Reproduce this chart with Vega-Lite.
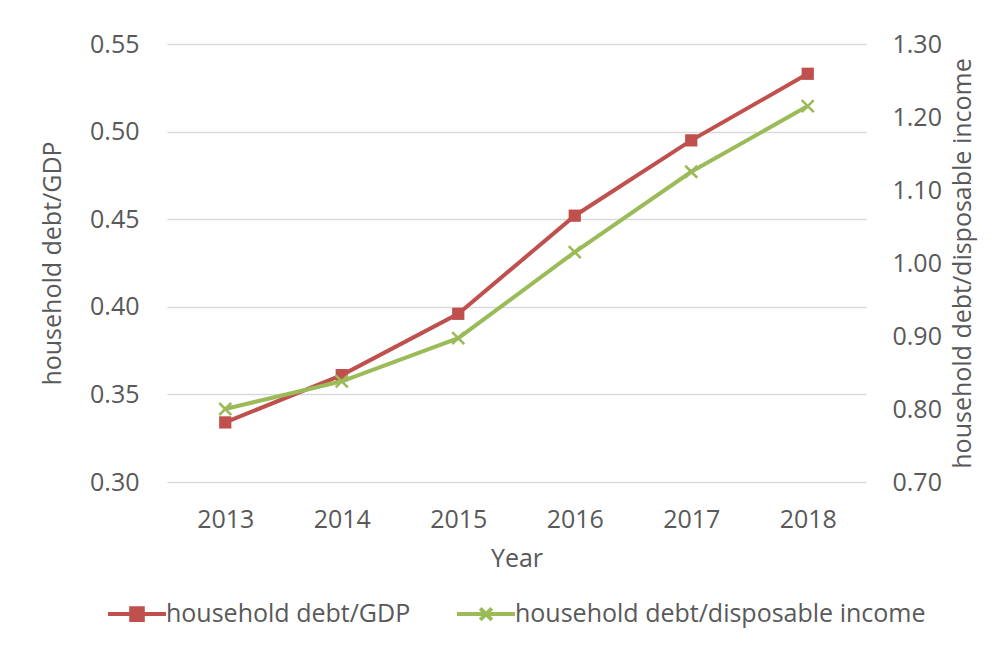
{
  "$schema": "https://vega.github.io/schema/vega-lite/v6.json",
  "width": 699,
  "height": 438,
  "autosize": {"type": "none"},
  "padding": {"left": 167, "top": 44, "right": 141, "bottom": 187},
  "background": "white",
  "config": {
    "view": {"stroke": null},
    "font": "Open Sans",
    "axis": {
      "labelFont": "Open Sans",
      "labelFontSize": 25,
      "labelColor": "#595959",
      "titleFont": "Open Sans",
      "titleFontSize": 25,
      "titleFontWeight": "normal",
      "titleColor": "#595959",
      "domain": false,
      "ticks": false,
      "tickSize": 0
    }
  },
  "data": {
    "values": [
      {"year": "2013", "gdp": 0.334, "income": 0.800},
      {"year": "2014", "gdp": 0.361, "income": 0.838},
      {"year": "2015", "gdp": 0.396, "income": 0.897},
      {"year": "2016", "gdp": 0.452, "income": 1.015},
      {"year": "2017", "gdp": 0.495, "income": 1.125},
      {"year": "2018", "gdp": 0.533, "income": 1.215}
    ]
  },
  "encoding": {
    "x": {
      "field": "year",
      "type": "ordinal",
      "scale": {"type": "point", "padding": 0.5},
      "axis": {
        "title": "Year",
        "labelAngle": 0,
        "labelPadding": 25,
        "titlePadding": 14,
        "grid": false
      }
    }
  },
  "layer": [
    {
      "encoding": {
        "y": {
          "field": "gdp",
          "type": "quantitative",
          "scale": {"domain": [0.3, 0.55], "nice": false, "zero": false},
          "axis": {
            "orient": "left",
            "title": "household debt/GDP",
            "values": [0.3, 0.35, 0.4, 0.45, 0.5, 0.55],
            "format": ".2f",
            "labelPadding": 28,
            "titlePadding": 24,
            "grid": true,
            "gridColor": "#D9D9D9",
            "gridWidth": 1.5
          }
        }
      },
      "layer": [
        {
          "mark": {"type": "line", "strokeWidth": 4},
          "encoding": {
            "color": {
              "datum": "household debt/GDP",
              "type": "nominal",
              "scale": {
                "domain": ["household debt/GDP", "household debt/disposable income"],
                "range": ["#C0504D", "#9BBB59"]
              },
              "legend": {
                "orient": "none",
                "legendX": -61,
                "legendY": 539,
                "direction": "horizontal",
                "title": null,
                "padding": 0,
                "symbolSize": 3364,
                "symbolStrokeWidth": 4,
                "labelFont": "Open Sans",
                "labelFontSize": 25,
                "labelColor": "#595959",
                "labelLimit": 600,
                "labelOffset": -2,
                "columnPadding": 38,
                "encode": {
                  "symbols": {
                    "update": {
                      "shape": {"signal": "datum.value === 'household debt/GDP' ? 'M-1,0L1,0M-0.2,-0.2L0.2,-0.2L0.2,0.2L-0.2,0.2Z' : 'M-1,0L1,0M-0.2,-0.2L0.2,0.2M-0.2,0.2L0.2,-0.2'"},
                      "fill": {"signal": "datum.value === 'household debt/GDP' ? '#C0504D' : 'transparent'"}
                    }
                  }
                }
              }
            }
          }
        },
        {
          "mark": {"type": "point", "shape": "square", "filled": true, "size": 150, "color": "#C0504D", "opacity": 1}
        }
      ]
    },
    {
      "encoding": {
        "y": {
          "field": "income",
          "type": "quantitative",
          "scale": {"domain": [0.7, 1.3], "nice": false, "zero": false},
          "axis": {
            "orient": "right",
            "title": "household debt/disposable income",
            "values": [0.7, 0.8, 0.9, 1.0, 1.1, 1.2, 1.3],
            "format": ".2f",
            "labelPadding": 26,
            "titlePadding": 9,
            "titleAngle": -90,
            "titleBaseline": "top",
            "grid": false
          }
        }
      },
      "layer": [
        {
          "mark": {"type": "line", "strokeWidth": 4},
          "encoding": {
            "color": {
              "datum": "household debt/disposable income",
              "type": "nominal"
            }
          }
        },
        {
          "mark": {"type": "point", "shape": "M-1,-1L1,1M-1,1L1,-1", "filled": false, "size": 144, "strokeWidth": 2.5, "color": "#9BBB59", "opacity": 1}
        }
      ]
    }
  ],
  "resolve": {"scale": {"y": "independent"}}
}
